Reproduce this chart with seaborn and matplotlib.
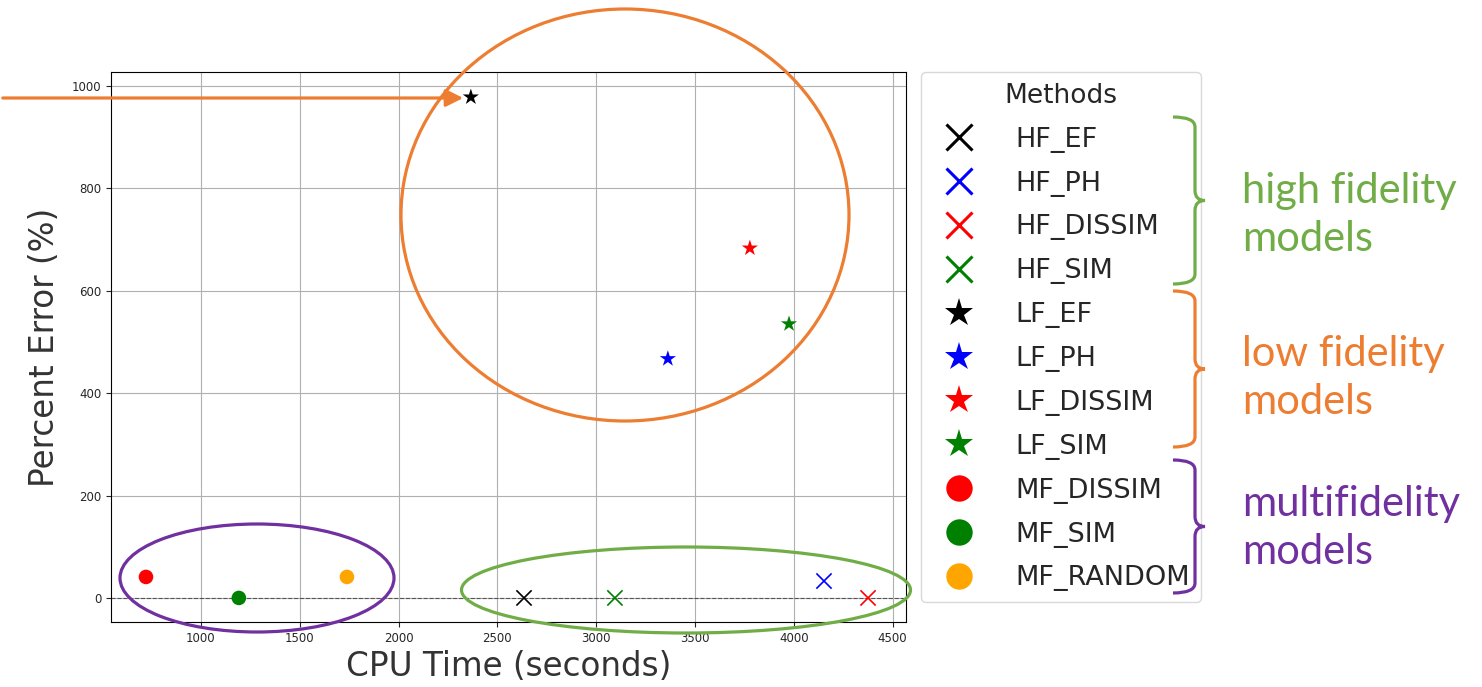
import numpy as np
import pandas as pd
import matplotlib
matplotlib.use("Agg")
import matplotlib.pyplot as plt
from matplotlib.patches import Ellipse, FancyArrowPatch, PathPatch
from matplotlib.path import Path
from matplotlib.lines import Line2D
import seaborn as sns

# data
methods = ["HF_EF", "HF_PH", "HF_DISSIM", "HF_SIM",
           "LF_EF", "LF_PH", "LF_DISSIM", "LF_SIM",
           "MF_DISSIM", "MF_SIM", "MF_RANDOM"]
cpu_time = [2635, 4153, 4376, 3095,
            2366, 3363, 3778, 3976,
            722, 1192, 1739]
pct_error = [0, 33, 0, 0,
             978, 467, 683, 535,
             41, 0, 41]
colors = ["black", "blue", "red", "green",
          "black", "blue", "red", "green",
          "red", "green", "orange"]
fidelity = ["HF"] * 4 + ["LF"] * 4 + ["MF"] * 3
markers = {"HF": "x", "LF": "*", "MF": "o"}

W, H = 1482, 687

df = pd.DataFrame({"method": methods, "cpu": cpu_time, "err": pct_error,
                   "fid": fidelity})
palette = dict(zip(methods, colors))

sns.set_style("ticks")
plt.rcParams["font.family"] = ["DejaVu Sans"]

fig = plt.figure(figsize=(W / 100, H / 100), dpi=100)
ax = fig.add_axes([111 / W, 1 - 622 / H, (906 - 111) / W, (622 - 72) / H])

# filled and line-art markers can't be mixed in one seaborn call
for fid, m in markers.items():
    sub = df[df["fid"] == fid]
    if m == "x":
        sns.scatterplot(data=sub, x="cpu", y="err", hue="method", palette=palette,
                        marker=m, s=120, linewidth=1.2, legend=False, ax=ax, zorder=3)
    else:
        sns.scatterplot(data=sub, x="cpu", y="err", hue="method", palette=palette,
                        marker=m, s=150 if m == "*" else 110, linewidth=0,
                        legend=False, ax=ax, zorder=3)

ax.axhline(0, color="#555555", linestyle="--", linewidth=0.8, zorder=2)
ax.set_xlim(545, 4568)
ax.set_ylim(-47, 1027)
ax.set_xticks([1000, 1500, 2000, 2500, 3000, 3500, 4000, 4500])
ax.set_yticks([0, 200, 400, 600, 800, 1000])
ax.grid(True, color="#b0b0b0", linewidth=0.8)
ax.tick_params(labelsize=8.5)
for sp in ax.spines.values():
    sp.set_color("black")
    sp.set_linewidth(0.8)
ax.set_xlabel("CPU Time (seconds)", fontsize=23.5, color="#333333", labelpad=4)
ax.set_ylabel("Percent Error (%)", fontsize=23.5, color="#333333", labelpad=8)

# legend
handles = []
for meth, col, fid in zip(methods, colors, fidelity):
    m = markers[fid]
    handles.append(Line2D([], [], linestyle="", marker=m, color=col,
                          markersize=19 if m != "*" else 21,
                          markeredgewidth=2.2 if m == "x" else 0))
leg = ax.legend(handles, methods, title="Methods", loc="upper left",
                bbox_to_anchor=(1 + 15 / 795, 1.0), borderaxespad=0,
                fontsize=19.5, title_fontsize=19,
                labelspacing=0.66, handletextpad=1.1, borderpad=0.4,
                frameon=True, fancybox=True)
leg.get_frame().set_edgecolor("#d0d0d0")


def fpt(x, y):
    return (x / W, 1 - y / H)


# annotation shapes, placed in figure pixels
orange = "#ED7D31"
green = "#70AD47"
purple = "#7030A0"

for cx, cy, w, h, col in [(625, 215, 448, 412, orange),
                          (257, 578, 274, 108, purple),
                          (686, 590, 449, 86, green)]:
    fig.add_artist(Ellipse(fpt(cx, cy), w / W, h / H, transform=fig.transFigure,
                           fill=False, edgecolor=col, linewidth=2.3, zorder=5))

fig.add_artist(FancyArrowPatch(fpt(0, 98), fpt(466, 98), transform=fig.transFigure,
                               arrowstyle="-|>", mutation_scale=26, color=orange,
                               linewidth=2.3, zorder=5))


def brace(xl, yt, yb, col, xm_off=22, tip=10, r=10):
    xm = xl + xm_off
    xt = xm + tip
    ym = (yt + yb) / 2
    pts = [(xl, yt), (xm, yt), (xm, yt + r), (xm, ym - r),
           (xm, ym), (xt, ym), (xm, ym), (xm, ym + r),
           (xm, yb - r), (xm, yb), (xl, yb)]
    codes = [Path.MOVETO, Path.CURVE3, Path.CURVE3, Path.LINETO,
             Path.CURVE3, Path.CURVE3, Path.CURVE3, Path.CURVE3,
             Path.LINETO, Path.CURVE3, Path.CURVE3]
    path = Path([fpt(x, y) for x, y in pts], codes)
    fig.add_artist(PathPatch(path, transform=fig.transFigure, fill=False,
                             edgecolor=col, linewidth=2.3, zorder=5))


brace(1173, 117, 284, green)
brace(1173, 291, 447, orange)
brace(1173, 460, 593, purple)

for txt, y, col in [("high fidelity\nmodels", 215, green),
                    ("low fidelity\nmodels", 378, orange),
                    ("multifidelity\nmodels", 528, purple)]:
    fig.text(1242 / W, 1 - y / H, txt, color=col, fontsize=30, family="Lato",
             va="center", ha="left", linespacing=1.3)

fig.savefig("out.png", dpi=100)
